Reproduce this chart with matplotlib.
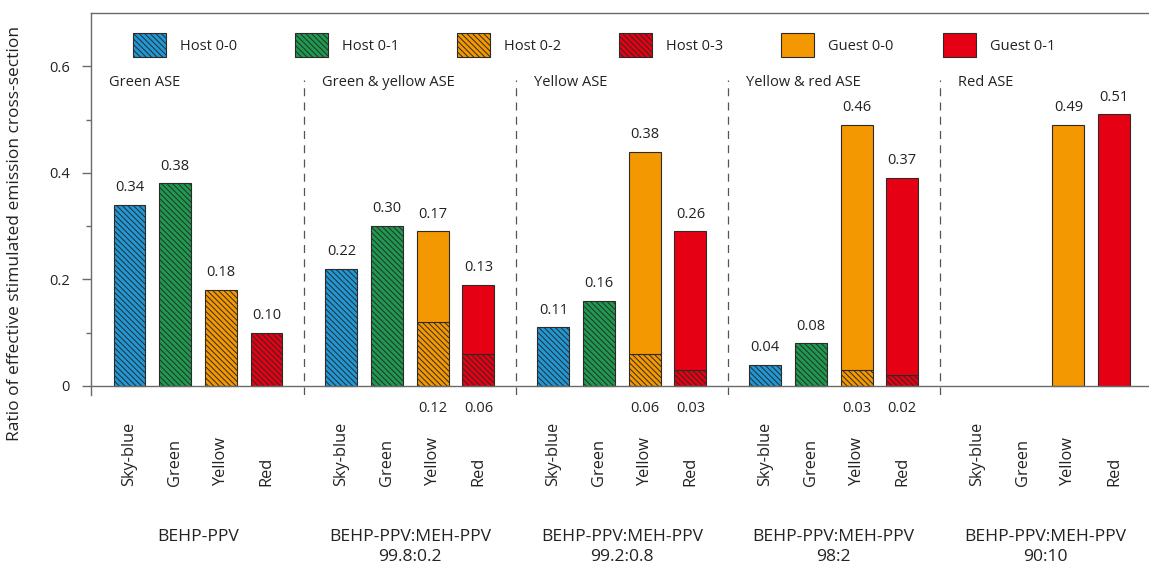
import numpy as np
import matplotlib
matplotlib.use("Agg")
import matplotlib.pyplot as plt
from matplotlib.patches import Patch
from matplotlib import transforms

plt.rcParams['font.family'] = ['Open Sans', 'DejaVu Sans']
plt.rcParams['hatch.linewidth'] = 0.7

# ---- data -------------------------------------------------------------
groups = ['BEHP-PPV',
          'BEHP-PPV:MEH-PPV\n99.8:0.2',
          'BEHP-PPV:MEH-PPV\n99.2:0.8',
          'BEHP-PPV:MEH-PPV\n98:2',
          'BEHP-PPV:MEH-PPV\n90:10']
ase_regions = ['Green ASE', 'Green & yellow ASE', 'Yellow ASE',
               'Yellow & red ASE', 'Red ASE']
categories = ['Sky-blue', 'Green', 'Yellow', 'Red']

host_00 = [0.34, 0.22, 0.11, 0.04, 0.0]   # sky-blue emission
host_01 = [0.38, 0.30, 0.16, 0.08, 0.0]   # green emission
host_02 = [0.18, 0.12, 0.06, 0.03, 0.0]   # yellow emission (host part)
host_03 = [0.10, 0.06, 0.03, 0.02, 0.0]   # red emission (host part)
guest_yellow = [0.0, 0.17, 0.38, 0.46, 0.49]  # Guest 0-0
guest_red = [0.0, 0.13, 0.26, 0.37, 0.51]     # Guest 0-1

legend_labels = ['Host 0-0', 'Host 0-1', 'Host 0-2', 'Host 0-3',
                 'Guest 0-0', 'Guest 0-1']

# ---- style --------------------------------------------------------------
c_sky = '#1E98D6'
c_green = '#1C9B50'
c_orange = '#F39800'
c_red = '#E60013'
edge = '#2e2a28'
hatch = '\\' * 6
axis_grey = '#6a6a6a'
txt = '#222222'

W, H = 1149, 565
fig = plt.figure(figsize=(W / 100, H / 100), dpi=100)

unit_px = 45.67          # one bar slot in pixels
group_step = 4.64        # slots per group
first_off = 0.843        # centre of first bar within a group
bar_w = 0.7
xmax = 23.5
ax = fig.add_axes([91 / W, (H - 395) / H, xmax * unit_px / W, 382 / H])
ax.set_xlim(0, xmax)
ax.set_ylim(-0.017, 0.7)

n_groups = len(groups)
base = np.arange(n_groups) * group_step + first_off
centres = [base + i for i in range(len(categories))]

host_series = [host_00, host_01, host_02, host_03]
host_colors = [c_sky, c_green, c_orange, c_red]
guest_series = {2: (guest_yellow, c_orange), 3: (guest_red, c_red)}

for i, (vals, col) in enumerate(zip(host_series, host_colors)):
    vals = np.asarray(vals)
    m = vals > 0
    ax.bar(centres[i][m], vals[m], width=bar_w, color=col, hatch=hatch,
           edgecolor=edge, linewidth=0.8, zorder=3)
    if i in guest_series:
        gvals, gcol = guest_series[i]
        gvals = np.asarray(gvals)
        gm = gvals > 0
        ax.bar(centres[i][gm], gvals[gm], bottom=vals[gm], width=bar_w,
               color=gcol, edgecolor=edge, linewidth=0.8, zorder=3)

# value labels
for i, vals in enumerate(host_series):
    gvals = np.asarray(guest_series[i][0]) if i in guest_series else np.zeros(n_groups)
    for g in range(n_groups):
        h, gv, x = vals[g], gvals[g], centres[i][g]
        if gv > 0:
            ax.annotate(f'{gv:.2f}', (x, h + gv), xytext=(0, 7),
                        textcoords='offset points', ha='center', va='bottom',
                        fontsize=10.5, color=txt)
            if h > 0:
                ax.annotate(f'{h:.2f}', (x, 0), xytext=(0, -16),
                            textcoords='offset points', ha='center',
                            va='center', fontsize=10.5, color=txt)
        elif h > 0:
            ax.annotate(f'{h:.2f}', (x, h), xytext=(0, 7),
                        textcoords='offset points', ha='center', va='bottom',
                        fontsize=10.5, color=txt)

# group separators and region names
seps = base[:-1] + 3 + (group_step - 3) / 2
ax.vlines(seps, -0.017, 0.575, colors='#555555', linewidth=0.9,
          linestyles=(0, (6.4, 5)), zorder=1)
starts = np.concatenate([[0], seps])
for s, name in zip(starts, ase_regions):
    ax.text(s + 0.4, 0.569, name, ha='left', va='center', fontsize=10.5,
            color=txt)

# axes styling
ax.spines['bottom'].set_visible(False)
ax.spines['right'].set_visible(False)
for sp in ('left', 'top'):
    ax.spines[sp].set_color(axis_grey)
    ax.spines[sp].set_linewidth(1.0)
ax.axhline(0, color=axis_grey, linewidth=1.0, zorder=4)
ax.set_yticks([0, 0.2, 0.4, 0.6])
ax.set_yticklabels(['0', '0.2', '0.4', '0.6'])
ax.set_yticks([0.1, 0.3, 0.5], minor=True)
ax.tick_params(axis='y', which='major', length=6.5, width=1.0,
               color=axis_grey, pad=8.6, labelsize=10.5, labelcolor=txt)
ax.tick_params(axis='y', which='minor', length=3.6, width=1.0,
               color=axis_grey)
ax.set_xticks([])

# category names under each bar
tr = transforms.blended_transform_factory(ax.transData, fig.transFigure)
for i, cat in enumerate(categories):
    for x in centres[i]:
        ax.text(x, 1 - 486 / H, cat, rotation=90, ha='center', va='bottom',
                fontsize=11.8, color=txt, transform=tr)

# sample names
for g, name in enumerate(groups):
    xc = base[g] + 1.5
    ax.text(xc, 1 - 529 / H, name, ha='center', va='top', fontsize=12.6,
            color=txt, linespacing=1.3, transform=tr)

fig.text(15 / W, 1 - 233 / H,
         'Ratio of effective stimulated emission cross-section',
         rotation=90, ha='center', va='center', fontsize=12.5, color=txt)

# legend: one entry every 162 px along the top
fs_px = 10.5 * 100 / 72
handles = [Patch(facecolor=c_sky, edgecolor=edge, hatch=hatch, linewidth=0.8),
           Patch(facecolor=c_green, edgecolor=edge, hatch=hatch, linewidth=0.8),
           Patch(facecolor=c_orange, edgecolor=edge, hatch=hatch, linewidth=0.8),
           Patch(facecolor=c_red, edgecolor=edge, hatch=hatch, linewidth=0.8),
           Patch(facecolor=c_orange, edgecolor=edge, linewidth=0.8),
           Patch(facecolor=c_red, edgecolor=edge, linewidth=0.8)]
for k, (h, lab) in enumerate(zip(handles, legend_labels)):
    leg = fig.legend(handles=[h], labels=[lab], loc='center left',
                     bbox_to_anchor=((133 + 162 * k) / W, 1 - 45 / H),
                     bbox_transform=fig.transFigure, frameon=False,
                     borderpad=0, borderaxespad=0, fontsize=10.5,
                     handlelength=33 / fs_px, handleheight=32 / fs_px,
                     handletextpad=14 / fs_px, labelcolor=txt)

fig.savefig('out.png', dpi=100)
